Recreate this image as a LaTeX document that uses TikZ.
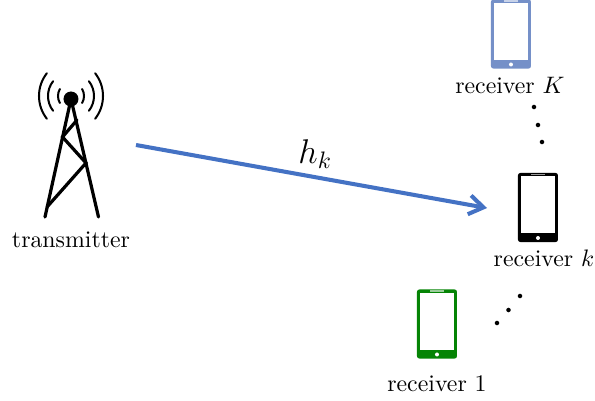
\documentclass[tikz,border=0pt]{standalone}
\usepackage{amsmath}
\usetikzlibrary{calc, %for relative coord calculations
                arrows.meta, % for the link arrow
                positioning}

\definecolor{linkblue}{HTML}{4472C4}
\definecolor{phoneblue}{HTML}{7590C8}
\definecolor{phonegreen}{HTML}{058405}

% phone body, screen, speaker and button
\newcommand{\Phone}[3]{%
    \node[Phone, fill=#3] at #1 (#2){};
    \fill[white] ($(#2.north west)+(3,4)$) rectangle ($(#2.south east)+(-3,-9)$);
    \fill[white, opacity=.6] ($(#2.north)+(-7,1.5)$) rectangle ($(#2.north)+(7,3)$);
    \fill[white] ($(#2.south)+(0,-4.5)$) circle (2);
}

\begin{document}
\begin{tikzpicture}[%
    x=.42pt, y=-.42pt,
    Phone/.style={rectangle, rounded corners=1pt, inner sep=0pt, minimum width=16.8pt, minimum height=29pt},
    Dot/.style={circle, fill=black, inner sep=0pt, minimum size=1.9pt},
    Label/.style={inner sep=0pt},
    Mast/.style={line width=1.35pt, line cap=round},
    Wave/.style={line width=.85pt, line cap=round}
    ]
    \useasboundingbox (0,0) rectangle (595,401);

    %Tower
    \coordinate (Top) at (71,99);
    \coordinate (LegL) at (45,217);
    \coordinate (LegR) at (98.5,217);
    \coordinate (BraceA) at (62.5,137);
    \coordinate (BraceB) at (86,163);
    \coordinate (BraceC) at (47,207);
    \coordinate (BraceD) at (77,120);
    \draw[Mast] (LegL) -- (Top) -- (LegR);
    \draw[Mast] (BraceD) -- (BraceA) -- (BraceB) -- (BraceC);
    \node[circle, fill=black, inner sep=0pt, minimum width=5.2pt, minimum height=6.3pt] at (Top) (Head){};
    \foreach \d/\r/\a in {13/14/30, 23/24/38, 32/37/38} {
        \draw[Wave] ($(71+\r-\d,96)+(180-\a:\r)$) arc[start angle=180-\a, end angle=180+\a, radius=\r];
        \draw[Wave] ($(71-\r+\d,96)+(-\a:\r)$) arc[start angle=-\a, end angle=\a, radius=\r];
    }
    \node[Label] at (71,240) (Tx){transmitter};

    %Receivers
    \Phone{(511,34)}{RxK}{phoneblue}
    \Phone{(538,207.5)}{Rxk}{black}
    \Phone{(437,324)}{Rx1}{phonegreen}
    \node[Label] at (510,85) (LabelK){receiver $K$};
    \node[Label] at (544,258) (Labelk){receiver $k$};
    \node[Label] at (437,384) (Label1){receiver $1$};

    %Dots between receivers
    \foreach \x/\y [count=\i] in {534/107, 538/125, 542/142} \node[Dot] at (\x,\y) (DotA\i){};
    \foreach \x/\y [count=\i] in {497/323, 508.5/310, 520/296} \node[Dot] at (\x,\y) (DotB\i){};

    %Link
    \coordinate (LinkStart) at (136,145);
    \coordinate (LinkEnd) at ($(Rxk.west)+(0,6)$);
    \draw[color=linkblue, line width=1.7pt, -{Straight Barb[length=6pt, width=8pt]}, shorten >=13pt] (LinkStart) -- (LinkEnd) node[pos=.47, above=-.6pt, black, font=\Large] (Gain){$h_k$};
\end{tikzpicture}
\end{document}
